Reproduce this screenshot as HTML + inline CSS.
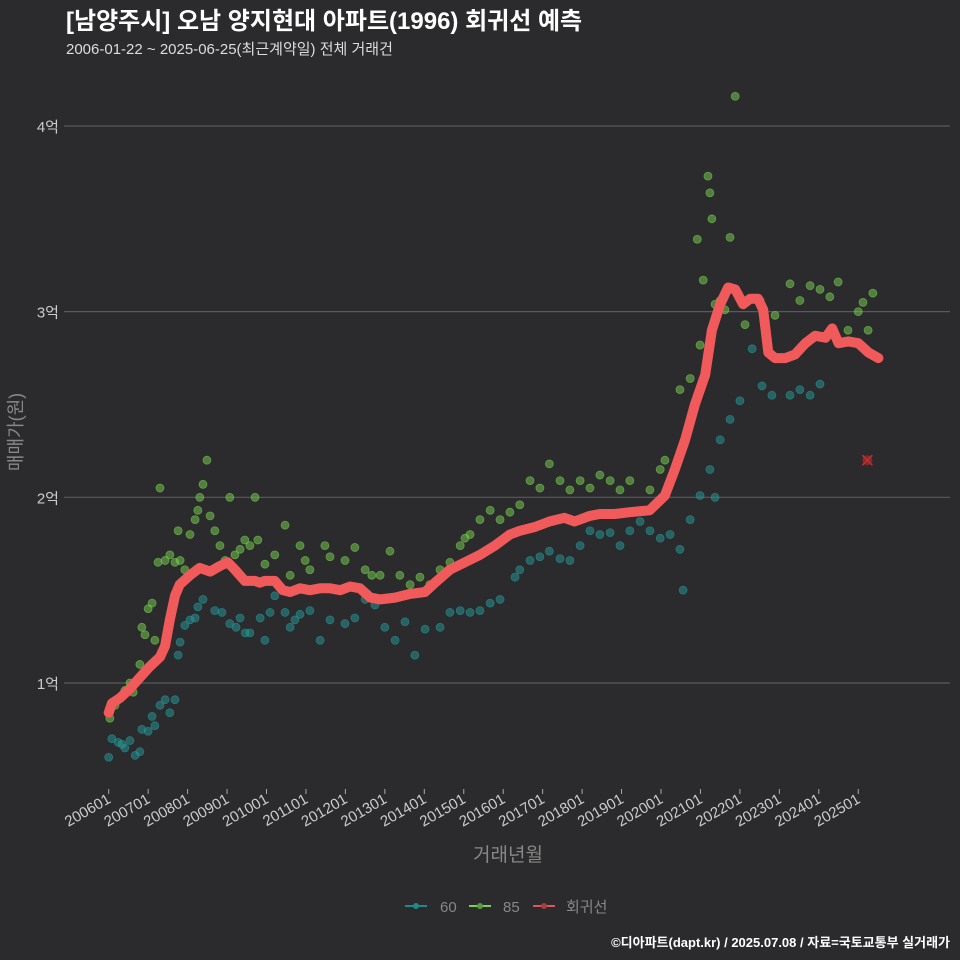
<!DOCTYPE html>
<html><head><meta charset="utf-8"><style>
body{margin:0;background:#2b2a2c;}
svg{display:block;font-family:"Liberation Sans","Noto Sans CJK KR",sans-serif;}
</style></head><body>
<svg id="chart" width="960" height="960" viewBox="0 0 960 960">
<rect width="960" height="960" fill="#2b2a2c"/>
<text x="66" y="29" fill="#fff" font-size="24" font-weight="bold">[남양주시] 오남 양지현대 아파트(1996) 회귀선 예측</text>
<text x="66" y="54" fill="#ddd" font-size="15">2006-01-22 ~ 2025-06-25(최근계약일) 전체 거래건</text>
<g id="grid"></g>
<g id="yticks"></g>
<g id="xticks"></g>
<g id="pts60"></g>
<g id="pts85"></g>
<g id="reg"></g>
<text transform="translate(22,432) rotate(-90)" text-anchor="middle" fill="#888" font-size="18">매매가(원)</text>
<text x="508" y="861" text-anchor="middle" fill="#888" font-size="19">거래년월</text>
<g>
<g><line x1="405" y1="906" x2="427" y2="906" stroke="#1f8a8a" stroke-width="2"/><circle cx="416" cy="906" r="3" fill="#1f8a8a"/><text x="440" y="912" fill="#888" font-size="15">60</text></g>
<g><line x1="469" y1="906" x2="491" y2="906" stroke="#7ad151" stroke-width="2"/><circle cx="480" cy="906" r="3" fill="#5a9a40"/><text x="503" y="912" fill="#888" font-size="15">85</text></g>
<g><line x1="533" y1="906" x2="555" y2="906" stroke="#e05555" stroke-width="2"/><circle cx="544" cy="906" r="3" fill="#a04040"/><text x="566" y="912" fill="#888" font-size="15">회귀선</text></g>
</g>
<text x="950" y="947" text-anchor="end" fill="#fff" font-size="13" font-weight="bold">©디아파트(dapt.kr) / 2025.07.08 / 자료=국토교통부 실거래가</text>
</svg>
<script>
const yTickVals=[1,2,3,4];
const yTickLabels=["1억","2억","3억","4억"];
const xTickYears=[2006,2007,2008,2009,2010,2011,2012,2013,2014,2015,2016,2017,2018,2019,2020,2021,2022,2023,2024,2025];
const xTickLabels=["200601","200701","200801","200901","201001","201101","201201","201301","201401","201501","201601","201701","201801","201901","202001","202101","202201","202301","202401","202501"];
const regYears=[2006.0,2006.08,2006.29,2006.54,2006.79,2007.05,2007.30,2007.43,2007.55,2007.68,2007.80,2008.06,2008.31,2008.57,2008.82,2009.02,2009.20,2009.45,2009.71,2009.83,2009.96,2010.21,2010.41,2010.60,2010.85,2011.10,2011.36,2011.61,2011.87,2012.12,2012.37,2012.63,2012.88,2013.26,2013.64,2014.02,2014.27,2014.65,2015.03,2015.41,2015.79,2016.17,2016.42,2016.80,2017.17,2017.55,2017.81,2018.19,2018.45,2018.83,2019.21,2019.71,2020.10,2020.35,2020.61,2020.86,2021.12,2021.29,2021.50,2021.70,2021.88,2022.08,2022.26,2022.46,2022.59,2022.72,2022.89,2023.15,2023.40,2023.66,2023.91,2024.17,2024.34,2024.50,2024.75,2025.0,2025.26,2025.51];
const regValues=[0.84,0.89,0.92,0.97,1.03,1.09,1.14,1.20,1.34,1.47,1.53,1.58,1.62,1.60,1.63,1.65,1.61,1.55,1.55,1.54,1.55,1.55,1.50,1.49,1.51,1.50,1.51,1.51,1.50,1.52,1.51,1.46,1.45,1.46,1.48,1.49,1.54,1.61,1.65,1.69,1.74,1.80,1.82,1.84,1.87,1.89,1.87,1.90,1.91,1.91,1.92,1.93,2.01,2.15,2.31,2.50,2.66,2.90,3.04,3.13,3.12,3.04,3.07,3.07,3.01,2.78,2.75,2.75,2.77,2.83,2.87,2.86,2.91,2.83,2.84,2.83,2.78,2.75];
const s60Years=[2006.0,2006.08,2006.24,2006.34,2006.41,2006.54,2006.67,2006.79,2006.84,2007.00,2007.10,2007.17,2007.30,2007.43,2007.55,2007.68,2007.76,2007.81,2007.93,2008.06,2008.19,2008.26,2008.39,2008.69,2008.87,2009.07,2009.23,2009.33,2009.46,2009.58,2009.84,2009.96,2010.09,2010.21,2010.47,2010.60,2010.72,2010.85,2011.10,2011.36,2011.61,2011.99,2012.24,2012.50,2012.75,2013.00,2013.26,2013.51,2013.76,2014.02,2014.40,2014.65,2014.91,2015.16,2015.41,2015.67,2015.92,2016.30,2016.42,2016.68,2016.93,2017.17,2017.44,2017.69,2017.95,2018.20,2018.45,2018.71,2018.96,2019.21,2019.47,2019.72,2019.98,2020.23,2020.48,2020.56,2020.74,2020.99,2021.24,2021.37,2021.50,2021.75,2022.00,2022.31,2022.56,2022.81,2023.27,2023.52,2023.78,2024.03];
const s60Values=[0.60,0.70,0.68,0.67,0.65,0.69,0.61,0.63,0.75,0.74,0.82,0.77,0.88,0.91,0.84,0.91,1.15,1.22,1.31,1.34,1.35,1.41,1.45,1.39,1.38,1.32,1.30,1.35,1.27,1.27,1.35,1.23,1.38,1.47,1.38,1.30,1.34,1.37,1.39,1.23,1.34,1.32,1.35,1.45,1.42,1.30,1.23,1.33,1.15,1.29,1.30,1.38,1.39,1.38,1.39,1.43,1.45,1.57,1.61,1.66,1.68,1.71,1.67,1.66,1.74,1.82,1.80,1.81,1.74,1.82,1.87,1.82,1.78,1.80,1.72,1.50,1.88,2.01,2.15,2.00,2.31,2.42,2.52,2.80,2.60,2.55,2.55,2.58,2.55,2.61];
const s85Years=[2006.03,2006.16,2006.29,2006.41,2006.54,2006.62,2006.79,2006.84,2006.92,2007.00,2007.10,2007.17,2007.25,2007.30,2007.43,2007.55,2007.68,2007.76,2007.81,2007.93,2008.06,2008.19,2008.26,2008.31,2008.39,2008.49,2008.57,2008.69,2008.82,2008.95,2009.07,2009.20,2009.33,2009.45,2009.58,2009.71,2009.78,2009.96,2010.21,2010.47,2010.60,2010.85,2010.98,2011.10,2011.48,2011.61,2011.99,2012.24,2012.50,2012.67,2012.88,2013.13,2013.38,2013.64,2013.89,2014.14,2014.40,2014.65,2014.91,2015.03,2015.16,2015.41,2015.67,2015.92,2016.17,2016.42,2016.68,2016.93,2017.17,2017.44,2017.69,2017.95,2018.20,2018.45,2018.71,2018.96,2019.21,2019.72,2019.98,2020.10,2020.48,2020.74,2020.92,2020.99,2021.07,2021.19,2021.24,2021.29,2021.37,2021.50,2021.62,2021.75,2021.88,2022.13,2022.51,2022.89,2023.27,2023.52,2023.78,2024.03,2024.28,2024.49,2024.74,2025.00,2025.12,2025.25,2025.37];
const s85Values=[0.81,0.88,0.92,0.96,1.00,0.95,1.10,1.30,1.26,1.40,1.43,1.23,1.65,2.05,1.66,1.69,1.65,1.82,1.66,1.61,1.80,1.88,1.93,2.00,2.07,2.20,1.90,1.82,1.74,1.66,2.00,1.69,1.72,1.77,1.74,2.00,1.77,1.64,1.69,1.85,1.58,1.74,1.66,1.61,1.74,1.68,1.66,1.73,1.61,1.58,1.58,1.71,1.58,1.53,1.57,1.53,1.61,1.65,1.74,1.78,1.80,1.88,1.93,1.88,1.92,1.96,2.09,2.05,2.18,2.09,2.04,2.09,2.05,2.12,2.09,2.04,2.09,2.04,2.15,2.20,2.58,2.64,3.39,2.82,3.17,3.73,3.64,3.50,3.04,3.06,3.01,3.40,4.16,2.93,3.06,2.98,3.15,3.06,3.14,3.12,3.08,3.16,2.90,3.00,3.05,2.90,3.10];
const predYear=[2025.23];
const predValue=[2.20];

const NS="http://www.w3.org/2000/svg";
function xs(yr){return 108.7+(yr-2006)*39.45;}
function ys(v){return 683-(v-1)*185.67;}
function mk(tag,attrs,parent){const e=document.createElementNS(NS,tag);for(const k in attrs)e.setAttribute(k,attrs[k]);parent.appendChild(e);return e;}
const grid=document.getElementById('grid'),yt=document.getElementById('yticks'),xt=document.getElementById('xticks');
yTickVals.forEach((v,i)=>{
  const l=mk('line',{x1:64,x2:950,y1:ys(v),y2:ys(v),stroke:'#5a5a5a','stroke-width':1.2},grid);
  
  
  const t=mk('text',{x:59,y:ys(v)+6,'text-anchor':'end',fill:'#ccc','font-size':15},yt);
  t.textContent=yTickLabels[i];
  
  
});
xTickYears.forEach((yr,i)=>{
  const x=xs(yr);
  const tk=mk('line',{x1:x,x2:x,y1:789,y2:794,stroke:'#aaa','stroke-width':1},xt);
  
  
  const t=mk('text',{transform:`translate(${x+3},${802}) rotate(-30)`,'text-anchor':'end',fill:'#ccc','font-size':15},xt);
  t.textContent=xTickLabels[i];
  
  
});
const g60=document.getElementById('pts60'),g85=document.getElementById('pts85');
s60Years.forEach((yr,i)=>{
  const c=mk('circle',{cx:xs(yr),cy:ys(s60Values[i]),r:4,fill:'#259a9a','fill-opacity':0.5,stroke:'#259a9a','stroke-opacity':0.6,'stroke-width':0.8},g60);
  
  
});
s85Years.forEach((yr,i)=>{
  const c=mk('circle',{cx:xs(yr),cy:ys(s85Values[i]),r:4,fill:'#7ad151','fill-opacity':0.5,stroke:'#7ad151','stroke-opacity':0.6,'stroke-width':0.8},g85);
  
  
});
const reg=document.getElementById('reg');
const d=regYears.map((yr,i)=>(i?'L':'M')+xs(yr).toFixed(1)+','+ys(regValues[i]).toFixed(1)).join(' ');
const p=mk('path',{d:d,fill:'none',stroke:'#f05a5a','stroke-width':10,'stroke-linejoin':'round','stroke-linecap':'round'},reg);


predYear.forEach((yr,i)=>{
  const cx=xs(yr),cy=ys(predValue[i]);
  const c=mk('circle',{cx:cx,cy:cy,r:5,fill:'#a02828','fill-opacity':0.8},reg);
  
  
  const x1=mk('path',{d:`M${cx-5},${cy-5}L${cx+5},${cy+5}M${cx-5},${cy+5}L${cx+5},${cy-5}`,stroke:'#c03030','stroke-width':1.5},reg);
  
  
});
</script>
</body></html>
